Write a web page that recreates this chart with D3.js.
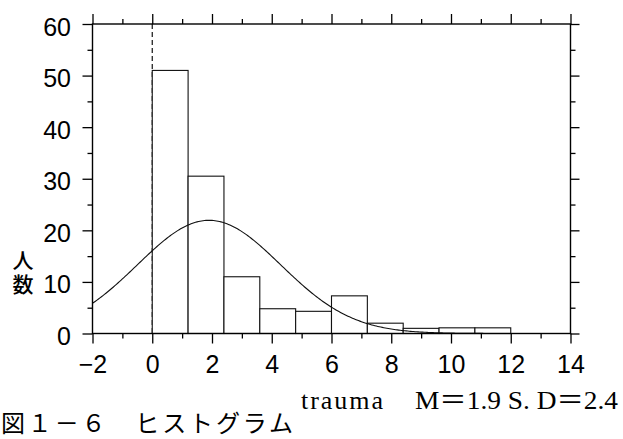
<!DOCTYPE html>
<html>
<head>
<meta charset="utf-8">
<script src="https://cdn.jsdelivr.net/npm/d3@7"></script>
<style>
  body { margin: 0; background: #fff; }
  svg { display: block; }
</style>
</head>
<body>
<svg id="chart" width="623" height="439"></svg>
<script>
// Histogram of trauma scores (bin width 1.2) with a fitted normal curve
const binEdges = [0, 1.2, 2.4, 3.6, 4.8, 6.0, 7.2, 8.4, 9.6, 10.8, 12.0];
const counts   = [51, 30.5, 11, 4.8, 4.3, 7.3, 2, 1, 1.1, 1.1];
const xMajorTicks = [-2, 0, 2, 4, 6, 8, 10, 12, 14];
const xMinorTicks = [-1, 1, 3, 5, 7, 9, 11, 13];
const yMajorTicks = [0, 10, 20, 30, 40, 50, 60];
const yMinorTicks = [5, 15, 25, 35, 45, 55];
const meanValue = 1.9;
const sdValue = 2.4;
const nCases = 110;
const binWidth = 1.2;
const xLabel = "trauma";
const statsLabel = "M\uFF1D1.9 S. D\uFF1D2.4";
const yLabel = "人数";
const caption = "図１－６　ヒストグラム";

(function drawChart() {
  const svg = d3.select("#chart");
  const width = 623, height = 439;
  svg.append("rect").attr("width", width).attr("height", height).attr("fill", "#fff");

  const plotLeft = 92.5, plotRight = 570.5, plotTop = 24, plotBottom = 333.5;
  const x = d3.scaleLinear().domain([-2, 14]).range([plotLeft, plotRight]);
  const y = d3.scaleLinear().domain([0, 60]).range([plotBottom, plotTop]);

  const tickFont = "'Liberation Sans Narrow', 'Arial Narrow', 'Liberation Sans', Arial, sans-serif";

  // vertical dashed reference line at zero
  svg.append("line")
    .attr("x1", x(0)).attr("x2", x(0))
    .attr("y1", y(60)).attr("y2", y(0))
    .attr("stroke", "#111").attr("stroke-width", 1.2)
    .attr("stroke-dasharray", "5,3");

  // bars
  const bins = counts.map((c, i) => ({ x0: binEdges[i], x1: binEdges[i + 1], c }));
  svg.append("g").selectAll("rect").data(bins).join("rect")
    .attr("x", d => x(d.x0))
    .attr("width", d => x(d.x1) - x(d.x0))
    .attr("y", d => y(d.c))
    .attr("height", d => y(0) - y(d.c))
    .attr("fill", "#fff")
    .attr("stroke", "#111")
    .attr("stroke-width", 1.1);

  // normal curve scaled to counts per bin
  const pdf = v => Math.exp(-0.5 * ((v - meanValue) / sdValue) ** 2) / (sdValue * Math.sqrt(2 * Math.PI));
  const curveXs = d3.range(-2, 14.001, 0.05);
  svg.append("path")
    .datum(curveXs)
    .attr("fill", "none")
    .attr("stroke", "#111")
    .attr("stroke-width", 1.1)
    .attr("d", d3.line().x(v => x(v)).y(v => y(nCases * binWidth * pdf(v))));

  // axes on all four sides, ticks pointing outward
  function styleAxis(g) {
    g.select(".domain").remove();
    g.selectAll(".tick line").attr("stroke", "#000").attr("stroke-width", 1.3);
    g.selectAll("text").attr("fill", "#000").attr("font-family", tickFont).attr("font-size", 25);
  }
  const fmt = d3.format("d");

  svg.append("g").attr("transform", `translate(0,${plotBottom})`)
    .call(d3.axisBottom(x).tickValues(xMajorTicks).tickSize(10).tickPadding(11.5).tickFormat(fmt))
    .call(styleAxis);
  svg.append("g").attr("transform", `translate(0,${plotBottom})`)
    .call(d3.axisBottom(x).tickValues(xMinorTicks).tickSize(5).tickFormat(""))
    .call(styleAxis);
  svg.append("g").attr("transform", `translate(0,${plotTop})`)
    .call(d3.axisTop(x).tickValues(xMajorTicks).tickSize(10).tickFormat(""))
    .call(styleAxis);
  svg.append("g").attr("transform", `translate(0,${plotTop})`)
    .call(d3.axisTop(x).tickValues(xMinorTicks).tickSize(5).tickFormat(""))
    .call(styleAxis);

  const yAxisG = svg.append("g").attr("transform", `translate(${plotLeft},0)`)
    .call(d3.axisLeft(y).tickValues(yMajorTicks).tickSize(10).tickPadding(11.5).tickFormat(fmt))
    .call(styleAxis);
  yAxisG.selectAll("text").attr("dy", "0.44em");
  svg.append("g").attr("transform", `translate(${plotLeft},0)`)
    .call(d3.axisLeft(y).tickValues(yMinorTicks).tickSize(5).tickFormat(""))
    .call(styleAxis);
  svg.append("g").attr("transform", `translate(${plotRight},0)`)
    .call(d3.axisRight(y).tickValues(yMajorTicks).tickSize(9).tickFormat(""))
    .call(styleAxis);
  svg.append("g").attr("transform", `translate(${plotRight},0)`)
    .call(d3.axisRight(y).tickValues(yMinorTicks).tickSize(5).tickFormat(""))
    .call(styleAxis);

  // frame
  svg.append("rect")
    .attr("x", plotLeft).attr("y", plotTop)
    .attr("width", plotRight - plotLeft).attr("height", plotBottom - plotTop)
    .attr("fill", "none").attr("stroke", "#000").attr("stroke-width", 1.4);

  // y-axis title, set vertically
  svg.append("text")
    .attr("x", 23).attr("y", 250)
    .attr("writing-mode", "tb")
    .attr("font-family", "'Noto Sans CJK JP', sans-serif")
    .attr("font-weight", 500)
    .attr("font-size", 21)
    .attr("letter-spacing", 3)
    .attr("fill", "#000")
    .text(yLabel);

  // x-axis title and summary statistics
  svg.append("text")
    .attr("x", 301).attr("y", 409)
    .attr("font-family", "'Liberation Serif', 'Times New Roman', serif")
    .attr("font-size", 26)
    .attr("fill", "#000")
    .attr("textLength", 82)
    .text(xLabel);
  svg.append("text")
    .attr("x", 415).attr("y", 409)
    .attr("font-family", "'Liberation Serif', 'Times New Roman', 'Noto Sans CJK JP', serif")
    .attr("font-size", 26)
    .attr("fill", "#000")
    .attr("textLength", 203)
    .attr("lengthAdjust", "spacingAndGlyphs")
    .text(statsLabel);

  // figure caption
  svg.append("text")
    .attr("x", 1).attr("y", 432)
    .attr("font-family", "'Noto Sans CJK JP', sans-serif")
    .attr("font-size", 24)
    .attr("fill", "#000")
    .attr("textLength", 292)
    .text(caption);
})();
</script>
</body>
</html>
